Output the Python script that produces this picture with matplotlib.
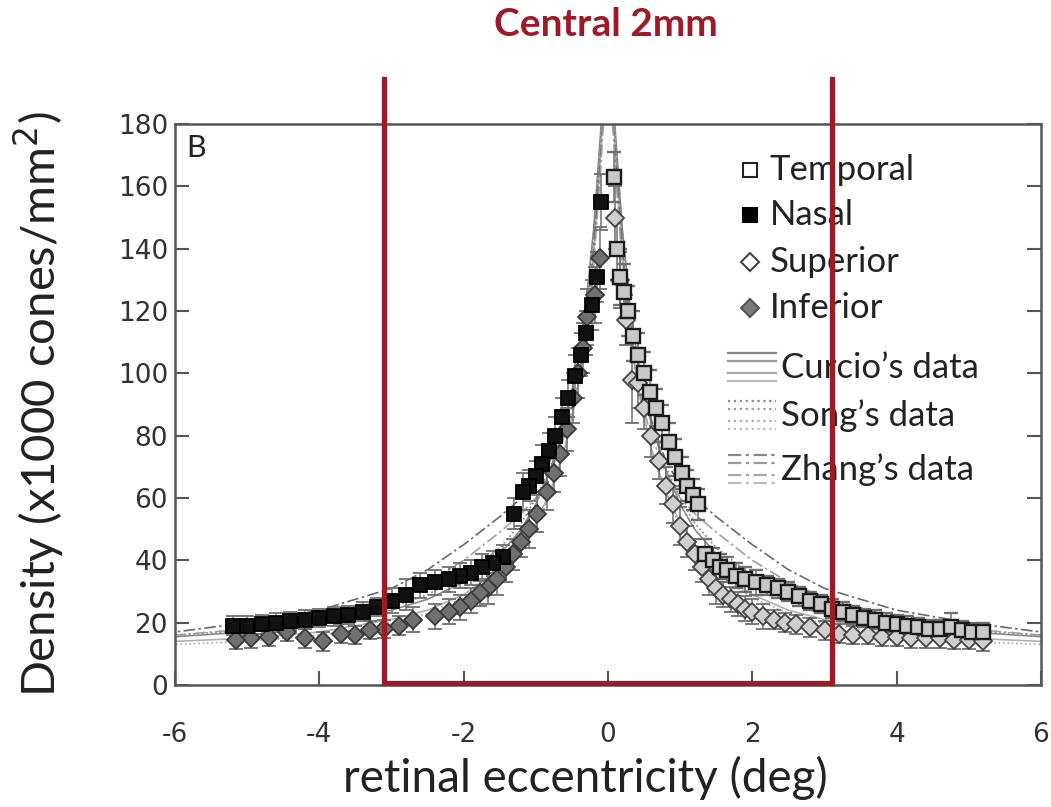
import matplotlib
matplotlib.use("Agg")
import matplotlib.pyplot as plt

plt.rcParams['axes.unicode_minus'] = False

# ---- data ----
temporal_x = [0.08, 0.13, 0.17, 0.22, 0.28, 0.35, 0.42, 0.5, 0.58, 0.66,
              0.75, 0.84, 0.93, 1.02, 1.1, 1.18, 1.25, 1.35, 1.45, 1.55,
              1.65, 1.78, 1.9, 2.05, 2.2, 2.35, 2.5, 2.65, 2.8, 2.95,
              3.1, 3.25, 3.4, 3.55, 3.7, 3.85, 4.0, 4.15, 4.3, 4.45,
              4.6, 4.75, 4.9, 5.05, 5.2]
temporal_y = [163, 140, 131, 126, 120, 112, 106, 100, 94, 89,
              84, 78, 73, 68, 64, 61, 58, 42, 40, 38,
              37, 35, 34, 33, 32, 31, 30, 28.5, 27, 26,
              24.5, 23.5, 22.5, 21.5, 21, 20, 19.5, 19, 18.5, 18,
              18, 18.5, 17.5, 17, 17]
temporal_err = [8, 10, 9, 9, 8, 8, 7, 7, 7, 6,
                6, 6, 6, 5, 5, 5, 5, 5, 4, 4,
                4, 4, 4, 4, 3, 3, 3, 3, 3, 3,
                3, 3, 3, 3, 3, 3, 3, 3, 3, 3,
                3, 4.5, 3, 3, 3]

nasal_x = [-0.1, -0.15, -0.22, -0.3, -0.38, -0.46, -0.55, -0.64, -0.73, -0.82,
           -0.91, -1.0, -1.1, -1.18, -1.3, -1.45, -1.6, -1.75, -1.9, -2.05,
           -2.2, -2.4, -2.6, -2.8, -3.0, -3.2, -3.4, -3.6, -3.8, -4.0,
           -4.2, -4.4, -4.6, -4.8, -5.0, -5.2]
nasal_y = [155, 131, 122, 113, 106, 99, 92, 86, 80, 75,
           71, 67, 64, 62, 55, 41, 39, 38, 36, 35,
           34, 33, 32, 29, 27, 25, 23.5, 22.5, 22, 21.5,
           21, 20.5, 20, 19.5, 19, 19]
nasal_err = [9, 8, 8, 7, 7, 7, 6, 6, 6, 6,
             6, 5, 5, 6, 5, 4, 4, 4, 4, 4,
             4, 4, 4, 5, 4, 3, 3, 3, 3, 3,
             3, 3, 3, 3, 3, 3]

superior_x = [0.1, 0.17, 0.25, 0.33, 0.42, 0.5, 0.6, 0.7, 0.8, 0.9,
              1.0, 1.1, 1.2, 1.3, 1.4, 1.5, 1.6, 1.7, 1.8, 1.9,
              2.0, 2.15, 2.3, 2.45, 2.6, 2.8, 3.0, 3.2, 3.4, 3.6,
              3.8, 4.0, 4.2, 4.4, 4.6, 4.8, 5.0, 5.2]
superior_y = [150, 130, 117, 98, 97, 89, 80, 72, 64, 58,
              51, 46, 42, 38, 34, 31, 29, 27.5, 26, 24.5,
              23.5, 22, 21, 20, 19.5, 18.5, 17.5, 16.5, 16, 16,
              15.5, 15.5, 15, 15, 15, 14.5, 14.5, 14]
superior_err = [10, 9, 8, 14, 8, 7, 7, 6, 6, 6,
                6, 5, 5, 5, 5, 5, 4, 4, 4, 4,
                4, 4, 3, 3, 3, 3, 3, 3, 3, 3,
                3, 3, 3, 3, 3, 3, 3, 3]

inferior_x = [-0.11, -0.18, -0.29, -0.35, -0.42, -0.48, -0.57, -0.66, -0.75, -0.85,
              -0.98, -1.1, -1.2, -1.31, -1.42, -1.54, -1.66, -1.77, -1.9, -2.05,
              -2.2, -2.4, -2.7, -2.9, -3.1, -3.3, -3.5, -3.7, -3.95, -4.2,
              -4.45, -4.7, -4.95, -5.15]
inferior_y = [137, 125, 118, 108, 100, 92, 82, 74, 68, 62,
              55, 50, 46, 42, 38, 34, 31, 29.5, 27, 25,
              23.5, 22, 21, 19, 18, 17.6, 16, 16.5, 14, 15,
              17, 15.5, 15, 14.5]
inferior_err = [10, 9, 9, 8, 8, 8, 7, 7, 6, 6,
                6, 6, 5, 5, 5, 5, 5, 4, 4, 4,
                4, 4, 4, 3, 3, 3, 3, 3, 3, 3,
                3, 3, 3, 3]

# model curves, eccentricity on one side (mirrored to both sides)
curve_r = [0, 0.05, 0.1, 0.2, 0.3, 0.4, 0.5, 0.6, 0.8, 1.0,
           1.2, 1.5, 2.0, 2.5, 3.0, 4.0, 5.0, 6.0]
curcio_h = [215, 200, 178, 146, 123, 106, 94, 84, 69, 58, 50, 42, 33, 27.5, 24, 19.5, 17, 15.5]
curcio_v = [215, 198, 172, 138, 114, 98, 86, 76, 62, 52, 45, 37, 29, 24, 21, 17, 15, 14]
song_h = [210, 196, 175, 145, 122, 106, 94, 84, 70, 60, 52, 44, 35, 29, 25, 20, 17.5, 16]
song_v = [205, 190, 168, 136, 113, 97, 85, 75, 61, 51, 44, 36, 28, 23, 19.5, 16, 14, 13]
zhang_h = [200, 188, 170, 140, 118, 104, 94, 85, 72, 64, 60, 54, 45, 37, 31, 24, 20, 17]
zhang_v = [200, 186, 166, 134, 112, 98, 88, 80, 68, 60, 55, 49, 40, 33, 28, 21.5, 18, 16]

central_half = 3.1   # half width of the central 2mm box, deg

RED = '#9e1a26'
W, H = 1051, 807

fig = plt.figure(figsize=(W / 100, H / 100), dpi=100)
ax = fig.add_axes([175 / W, 1 - 685 / H, 866 / W, 561 / H])

def px(x, y):
  # pixel position in the figure -> axes fraction
  return (x - 175) / 866, (685 - y) / 561

# curves
curve_styles = [
  (curcio_h, '-', '#8a8a8a'), (curcio_v, '-', '#b0b0b0'),
  (song_h, ':', '#808080'), (song_v, ':', '#a8a8a8'),
  (zhang_h, (0, (7, 2, 1.5, 2)), '#6a6a6a'), (zhang_v, (0, (7, 2, 1.5, 2)), '#a0a0a0'),
]
neg_r = [-r for r in curve_r]
for ys, ls, c in curve_styles:
  ax.plot(curve_r, ys, ls=ls, color=c, lw=1.2, zorder=2)
  ax.plot(neg_r, ys, ls=ls, color=c, lw=1.2, zorder=2)

# data series
ebar = dict(ecolor='#707070', elinewidth=1.1, capsize=5, capthick=1.1, ls='none', zorder=3)
ax.errorbar(superior_x, superior_y, yerr=superior_err, marker='D', ms=9,
            mfc='#cfcfcf', mec='#444444', mew=1.3, **ebar)
ax.errorbar(inferior_x, inferior_y, yerr=inferior_err, marker='D', ms=9,
            mfc='#707070', mec='#3a3a3a', mew=1.3, **ebar)
ax.errorbar(nasal_x, nasal_y, yerr=nasal_err, marker='s', ms=10,
            mfc='#111111', mec='#000000', mew=1.3, **ebar)
ax.errorbar(temporal_x, temporal_y, yerr=temporal_err, marker='s', ms=10,
            mfc='#c8c8c8', mec='#1a1a1a', mew=1.7, **ebar)

ax.set_xlim(-6, 6)
ax.set_ylim(0, 180)
ax.set_xticks([-6, -4, -2, 0, 2, 4, 6])
ax.set_yticks(range(0, 181, 20))
for s in ax.spines.values():
  s.set_color('#555555')
  s.set_linewidth(1.8)
ax.tick_params(direction='in', length=10, width=1.5, color='#555555',
               right=True, top=False, labelsize=19, labelcolor='#333333')
ax.tick_params(axis='x', pad=27)
ax.tick_params(axis='y', pad=5)

lab = dict(family='Lato', color='#222222')
ax.set_xlabel('retinal eccentricity (deg)', fontsize=33, **lab)
ax.xaxis.set_label_coords((585 - 175) / 866, (685 - 756) / 561)
ax.set_ylabel('Density (x1000 cones/mm$^2$)', fontsize=34, **lab)
ax.yaxis.set_label_coords((66 - 175) / 866, 0.5)

ax.text(*px(196, 148), 'B', transform=ax.transAxes, fontsize=22,
        ha='center', va='center', **lab)

# legend drawn by hand
marker_rows = [
  ('Temporal', 's', '#ffffff', '#222222', 170),
  ('Nasal', 's', '#000000', '#000000', 215),
  ('Superior', 'D', '#ffffff', '#444444', 262),
  ('Inferior', 'D', '#7a7a7a', '#555555', 308),
]
for name, m, fc, ec, y in marker_rows:
  ax.plot(*px(750, y), marker=m, ms=10 if m == 's' else 9, mfc=fc, mec=ec,
          mew=1.5, transform=ax.transAxes, zorder=5)
  ax.text(*px(770, y), name, transform=ax.transAxes, fontsize=25,
          va='center', ha='left', **lab)

line_rows = [
  ("Curcio\u2019s data", '-', 368),
  ("Song\u2019s data", ':', 416),
  ("Zhang\u2019s data", (0, (6, 2, 1.5, 2)), 470),
]
greys = ['#888888', '#999999', '#aaaaaa', '#bbbbbb']
for name, ls, y in line_rows:
  for k, dy in enumerate([-15, -7, 5, 13]):
    x0, yy = px(728, y + dy)
    x1, _ = px(776, y + dy)
    ax.plot([x0, x1], [yy, yy], ls=ls, color=greys[k], lw=1.6,
            transform=ax.transAxes, zorder=5)
  ax.text(*px(781, y), name, transform=ax.transAxes, fontsize=25,
          va='center', ha='left', **lab)

# central 2mm box (open at the top, runs above the axes)
ax.plot([-central_half, -central_half, central_half, central_half],
        [194.5, 0.6, 0.6, 194.5], color=RED, lw=3.8, clip_on=False,
        solid_joinstyle='miter', zorder=10)
fig.text(606 / W, 1 - 24 / H, 'Central 2mm', color=RED, fontsize=28,
         fontweight='bold', family='Lato', ha='center', va='center')

fig.savefig('out.png', dpi=100)
